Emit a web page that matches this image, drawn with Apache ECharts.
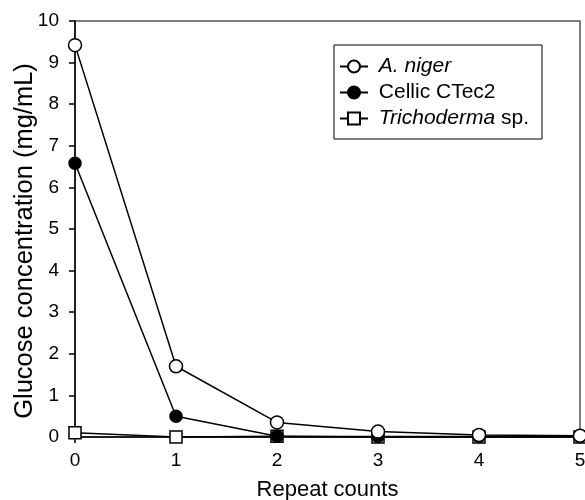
<!DOCTYPE html>
<html>
<head>
<meta charset="utf-8">
<script src="https://cdn.jsdelivr.net/npm/echarts@6/dist/echarts.min.js"></script>
<style>
html, body { margin: 0; padding: 0; background: #fff; }
#chart { width: 585px; height: 500px; }
</style>
</head>
<body>
<div id="chart"></div>
<script>
// repeat counts on the x axis
var repeatCounts = [0, 1, 2, 3, 4, 5]
// glucose concentration (mg/mL)
var aNiger = [9.42, 1.7, 0.35, 0.13, 0.05, 0.03]
var cellic = [6.58, 0.5, 0.02, 0.01, 0.01, 0.01]
var trichoderma = [0.1, 0.0, 0.02, 0.0, 0.0, 0.0]

var font = 'Liberation Sans, Arial, sans-serif'

function pairs(values) {
	return repeatCounts.map(function (x, i) {
		return [x, values[i]]
	})
}

// italic species names in the legend
var legendText = {
	'A. niger': ' {i|A. niger}',
	'Cellic CTec2': ' {n|Cellic CTec2}',
	'Trichoderma sp.': ' {i|Trichoderma}{n| sp.}',
}

function lineSeries(name, values, symbol, size, fill) {
	return {
		name: name,
		type: 'line',
		data: pairs(values),
		symbol: symbol,
		symbolSize: size,
		showAllSymbol: true,
		lineStyle: { color: '#000', width: 1.5 },
		itemStyle: { color: fill, borderColor: '#000', borderWidth: 1.5 },
		emphasis: { disabled: true },
		animation: false,
	}
}

var chart = echarts.init(document.getElementById('chart'))
chart.setOption({
	backgroundColor: '#fff',
	textStyle: { fontFamily: font },
	grid: {
		left: 75,
		right: 5,
		top: 21,
		bottom: 63,
		outerBoundsMode: 'none',
		show: true,
		borderColor: '#555',
		borderWidth: 1.5,
	},
	legend: {
		data: ['A. niger', 'Cellic CTec2', 'Trichoderma sp.'],
		orient: 'vertical',
		left: 334,
		top: 45,
		padding: [11, 13, 10, 5],
		itemGap: 5,
		itemWidth: 28,
		itemHeight: 15,
		borderColor: '#000',
		borderWidth: 1,
		formatter: function (name) {
			return legendText[name]
		},
		textStyle: {
			color: '#000',
			fontSize: 21,
			rich: {
				i: { fontStyle: 'italic', fontSize: 21, color: '#000', fontFamily: font },
				n: { fontSize: 21, color: '#000', fontFamily: font },
			},
		},
	},
	xAxis: {
		type: 'value',
		min: 0,
		max: 5,
		interval: 1,
		name: 'Repeat counts',
		nameLocation: 'middle',
		nameGap: 42,
		nameMoveOverlap: false,
		nameTextStyle: { fontSize: 22, color: '#000' },
		axisLine: { lineStyle: { color: '#000', width: 1.5 } },
		axisTick: { show: true, length: 6, lineStyle: { color: '#000', width: 1.5 } },
		axisLabel: { fontSize: 19, color: '#000', margin: 14 },
		splitLine: { show: false },
	},
	yAxis: {
		type: 'value',
		min: 0,
		max: 10,
		interval: 1,
		name: 'Glucose concentration (mg/mL)',
		nameLocation: 'middle',
		nameGap: 37,
		nameMoveOverlap: false,
		nameTextStyle: { fontSize: 25.5, color: '#000', padding: [0, 24, 0, 0] },
		axisLine: { show: true, lineStyle: { color: '#000', width: 1.5 } },
		axisTick: { show: true, length: 6, lineStyle: { color: '#000', width: 1.5 } },
		axisLabel: { fontSize: 19, color: '#000', margin: 16 },
		splitLine: { show: false },
	},
	series: [
		lineSeries('Trichoderma sp.', trichoderma, 'rect', 12, '#fff'),
		lineSeries('Cellic CTec2', cellic, 'circle', 12, '#000'),
		lineSeries('A. niger', aNiger, 'circle', 13, '#fff'),
	],
})
</script>
</body>
</html>
